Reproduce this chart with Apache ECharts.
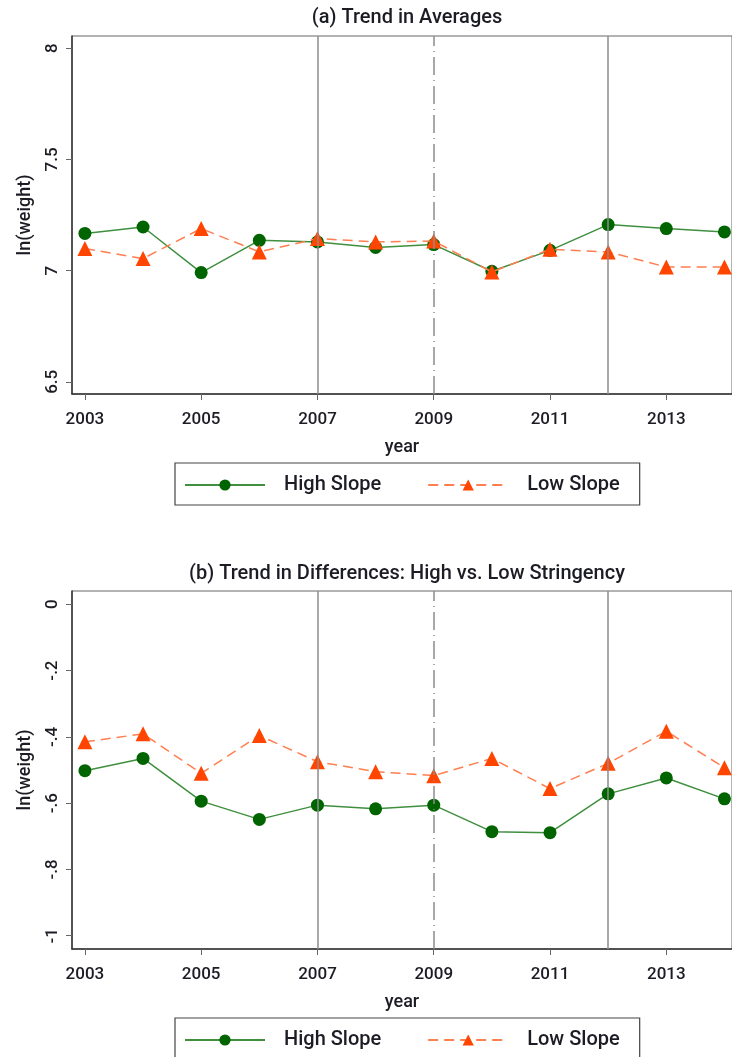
<!DOCTYPE html>
<html>
<head>
<meta charset="utf-8">
<script src="https://cdn.jsdelivr.net/npm/echarts@6/dist/echarts.min.js"></script>
<style>
  html, body { margin: 0; padding: 0; background: #fff; }
  #chart { width: 732px; height: 1057px; }
</style>
</head>
<body>
<div id="chart"></div>
<script>
// values
var years = [2003, 2004, 2005, 2006, 2007, 2008, 2009, 2010, 2011, 2012, 2013, 2014];
var highAvg = [7.167, 7.196, 6.991, 7.136, 7.129, 7.104, 7.117, 6.997, 7.091, 7.207, 7.189, 7.174];
var lowAvg = [7.099, 7.054, 7.189, 7.084, 7.144, 7.129, 7.133, 6.994, 7.096, 7.084, 7.016, 7.016];
var highDiff = [-0.502, -0.465, -0.594, -0.649, -0.606, -0.617, -0.606, -0.686, -0.689, -0.572, -0.524, -0.587];
var lowDiff = [-0.415, -0.391, -0.510, -0.396, -0.475, -0.505, -0.517, -0.465, -0.556, -0.480, -0.383, -0.493];

var xTicks = [2003, 2005, 2007, 2009, 2011, 2013];
var yTicksA = [6.5, 7, 7.5, 8];
var yTicksB = [-1, -0.8, -0.6, -0.4, -0.2, 0];
var refLines = [2007, 2009, 2012];

var font = 'Roboto';
var ink = '#1c1c24';
var green = '#006400', greenLine = '#3f8f3f';
var orange = '#ff4500', orangeLine = '#ff7f50';

function pairs(vals) {
    var out = [];
    for (var i = 0; i < years.length; i++) {
        out.push([years[i], vals[i]]);
    }
    return out;
}

function stataNum(v) {
    if (v === 0) return '0';
    return String(+v.toFixed(2)).replace('0.', '.');
}

function xAxisFor(gridIndex) {
    return {
        type: 'value',
        gridIndex: gridIndex,
        min: 2002.778,
        max: 2014.13,
        name: 'year',
        nameLocation: 'middle',
        nameGap: 44,
        nameTextStyle: { fontFamily: font, fontSize: 18, fontWeight: 500, color: ink },
        axisLine: { show: true, onZero: false, lineStyle: { color: '#333', width: 1.5 } },
        axisTick: { show: true, length: 6, customValues: xTicks, lineStyle: { color: '#666' } },
        axisLabel: {
            customValues: xTicks, margin: 17,
            fontFamily: font, fontSize: 17, fontWeight: 500, color: ink,
            formatter: function (v) { return String(v); }
        },
        splitLine: { show: false }
    };
}

function yAxisFor(gridIndex, min, max, ticks, fmt) {
    return {
        type: 'value',
        gridIndex: gridIndex,
        min: min,
        max: max,
        name: 'ln(weight)',
        nameLocation: 'middle',
        nameGap: 38,
        nameTextStyle: { fontFamily: font, fontSize: 18, fontWeight: 500, color: ink },
        axisLine: { show: true, onZero: false, lineStyle: { color: '#333', width: 1.5 } },
        axisTick: { show: true, length: 6, customValues: ticks, lineStyle: { color: '#666' } },
        axisLabel: {
            customValues: ticks, rotate: 90, margin: 11,
            fontFamily: font, fontSize: 17, fontWeight: 500, color: ink,
            formatter: fmt
        },
        splitLine: { show: false }
    };
}

function refMarks() {
    return {
        silent: true,
        symbol: 'none',
        label: { show: false },
        lineStyle: { color: '#8c8c8c', width: 1.5, type: 'solid' },
        data: [
            { xAxis: refLines[0] },
            { xAxis: refLines[1], lineStyle: { type: [18, 5, 1, 5] } },
            { xAxis: refLines[2] }
        ]
    };
}

function highSeries(name, vals, idx, withMarks) {
    var s = {
        name: name, type: 'line', xAxisIndex: idx, yAxisIndex: idx,
        data: pairs(vals),
        symbol: 'circle', symbolSize: 13,
        itemStyle: { color: green },
        lineStyle: { color: greenLine, width: 1.5 },
        z: 3
    };
    if (withMarks) s.markLine = refMarks();
    return s;
}

function lowSeries(name, vals, idx) {
    return {
        name: name, type: 'line', xAxisIndex: idx, yAxisIndex: idx,
        data: pairs(vals),
        symbol: 'triangle', symbolSize: 15,
        itemStyle: { color: orange },
        lineStyle: { color: orangeLine, width: 1.5, type: [10, 6] },
        z: 4
    };
}

function legendAt(top) {
    return {
        left: 175, top: top,
        orient: 'horizontal',
        borderColor: '#444', borderWidth: 1.2,
        padding: [12, 20, 10, 9],
        itemWidth: 80, itemHeight: 14, itemGap: 46,
        textStyle: { fontFamily: font, fontSize: 20, fontWeight: 500, color: ink, padding: [0, 0, 0, 14] },
        data: ['High Slope', 'Low Slope']
    };
}

var chart = echarts.init(document.getElementById('chart'));

var option = {
    backgroundColor: '#fff',
    animation: false,
    title: [
        { text: '(a) Trend in Averages', left: 407, top: 8, textAlign: 'center', padding: 0,
          textStyle: { fontFamily: font, fontSize: 20, fontWeight: 500, color: ink } },
        { text: '(b) Trend in Differences: High vs. Low Stringency', left: 407, top: 564, textAlign: 'center', padding: 0,
          textStyle: { fontFamily: font, fontSize: 20, fontWeight: 500, color: ink } }
    ],
    grid: [
        { left: 72, top: 36, right: -4, height: 358, show: true, borderColor: '#666', borderWidth: 1, backgroundColor: '#fff' },
        { left: 72, top: 591, right: -4, height: 358, show: true, borderColor: '#666', borderWidth: 1, backgroundColor: '#fff' }
    ],
    legend: [
        legendAt(463),
        legendAt(1018)
    ],
    xAxis: [xAxisFor(0), xAxisFor(1)],
    yAxis: [
        yAxisFor(0, 6.445, 8.055, yTicksA, function (v) { return String(v); }),
        yAxisFor(1, -1.04, 0.04, yTicksB, stataNum)
    ],
    series: [
        highSeries('High Slope', highAvg, 0, true),
        lowSeries('Low Slope', lowAvg, 0),
        highSeries('High Slope', highDiff, 1, true),
        lowSeries('Low Slope', lowDiff, 1)
    ]
};

chart.setOption(option);
</script>
</body>
</html>
